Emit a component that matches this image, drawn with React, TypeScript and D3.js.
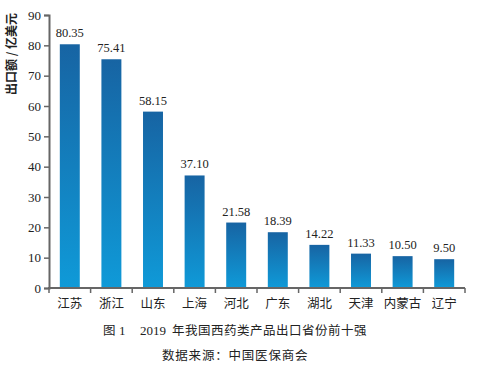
import React, { useEffect, useRef } from 'react'
import * as d3 from 'd3'

const provinces = ['江苏', '浙江', '山东', '上海', '河北', '广东', '湖北', '天津', '内蒙古', '辽宁']
const exportValues = [80.35, 75.41, 58.15, 37.1, 21.58, 18.39, 14.22, 11.33, 10.5, 9.5]
const yTicks = [0, 10, 20, 30, 40, 50, 60, 70, 80, 90]

const serif = '"Liberation Serif", "DejaVu Serif", serif'
const cjk = '"Noto Sans CJK SC", sans-serif'

export default function App() {
  const svgRef = useRef<SVGSVGElement>(null)

  useEffect(() => {
    if (!svgRef.current) return
    const svg = d3.select(svgRef.current)
    svg.selectAll('*').remove()

    const left = 49
    const right = 465
    const top = 15
    const bottom = 288

    const x = d3.scaleBand().domain(provinces).range([left, right]).paddingInner(0.52).paddingOuter(0.26)
    const y = d3.scaleLinear().domain([0, 90]).range([bottom, top])

    const defs = svg.append('defs')
    const grad = defs.append('linearGradient')
      .attr('id', 'barGrad')
      .attr('x1', 0).attr('y1', 0).attr('x2', 0).attr('y2', 1)
    grad.append('stop').attr('offset', '0%').attr('stop-color', '#1764a3')
    grad.append('stop').attr('offset', '100%').attr('stop-color', '#0f9ad8')

    // bars
    svg.append('g')
      .selectAll('rect')
      .data(exportValues)
      .join('rect')
      .attr('x', (_, i) => x(provinces[i])!)
      .attr('y', d => y(d))
      .attr('width', x.bandwidth())
      .attr('height', d => bottom - y(d))
      .attr('fill', 'url(#barGrad)')

    // value labels
    svg.append('g')
      .selectAll('text')
      .data(exportValues)
      .join('text')
      .attr('x', (_, i) => x(provinces[i])! + x.bandwidth() / 2)
      .attr('y', d => y(d) - 7)
      .attr('text-anchor', 'middle')
      .attr('font-family', serif)
      .attr('font-size', 12.5)
      .attr('fill', '#222')
      .text(d => d.toFixed(2))

    const axisColor = '#666'

    // y axis
    const yAxis = svg.append('g')
      .attr('transform', `translate(${left},0)`)
      .call(d3.axisLeft(y).tickValues(yTicks).tickSize(5).tickPadding(3))
    yAxis.select('.domain').attr('stroke', axisColor).attr('stroke-width', 2)
    yAxis.selectAll('.tick line').attr('stroke', axisColor).attr('stroke-width', 1.5)
    yAxis.selectAll('.tick text')
      .attr('font-family', serif)
      .attr('font-size', 13)
      .attr('fill', '#222')

    // x axis, ticks on the band edges
    const xg = svg.append('g').attr('transform', `translate(0,${bottom})`)
    xg.append('line')
      .attr('x1', left - 1).attr('x2', right)
      .attr('stroke', axisColor).attr('stroke-width', 2)
    const step = (right - left) / provinces.length
    xg.selectAll('line.tk')
      .data(d3.range(provinces.length + 1))
      .join('line')
      .attr('class', 'tk')
      .attr('x1', i => left + i * step)
      .attr('x2', i => left + i * step)
      .attr('y1', 0).attr('y2', 5)
      .attr('stroke', axisColor).attr('stroke-width', 1.5)
    xg.selectAll('text')
      .data(provinces)
      .join('text')
      .attr('x', d => x(d)! + x.bandwidth() / 2)
      .attr('y', 20)
      .attr('text-anchor', 'middle')
      .attr('font-family', cjk)
      .attr('font-size', 12.5)
      .attr('fill', '#222')
      .text(d => d)

    // y label
    svg.append('text')
      .attr('transform', 'translate(16,54) rotate(-90)')
      .attr('text-anchor', 'middle')
      .attr('font-family', cjk)
      .attr('font-weight', 'bold')
      .attr('font-size', 12)
      .attr('fill', '#222')
      .text('出口额 / 亿美元')

    // captions
    const cap = svg.append('text')
      .attr('x', 103).attr('y', 335)
      .attr('font-family', cjk)
      .attr('font-size', 12.5)
      .attr('fill', '#222')
    cap.append('tspan').text('图')
    cap.append('tspan').attr('x', 119).attr('font-family', serif).attr('font-size', 13).text('1')
    cap.append('tspan').attr('x', 140).attr('font-family', serif).attr('font-size', 13).text('2019')
    cap.append('tspan').attr('x', 172).attr('letter-spacing', 0.5).text('年我国西药类产品出口省份前十强')

    svg.append('text')
      .attr('x', 162).attr('y', 360)
      .attr('font-family', cjk)
      .attr('font-size', 12.5)
      .attr('letter-spacing', 0.8)
      .attr('fill', '#222')
      .text('数据来源：中国医保商会')
  }, [])

  return (
    <svg
      ref={svgRef}
      width={482}
      height={367}
      style={{ position: 'absolute', left: 0, top: 0, background: '#fff' }}
    />
  )
}
